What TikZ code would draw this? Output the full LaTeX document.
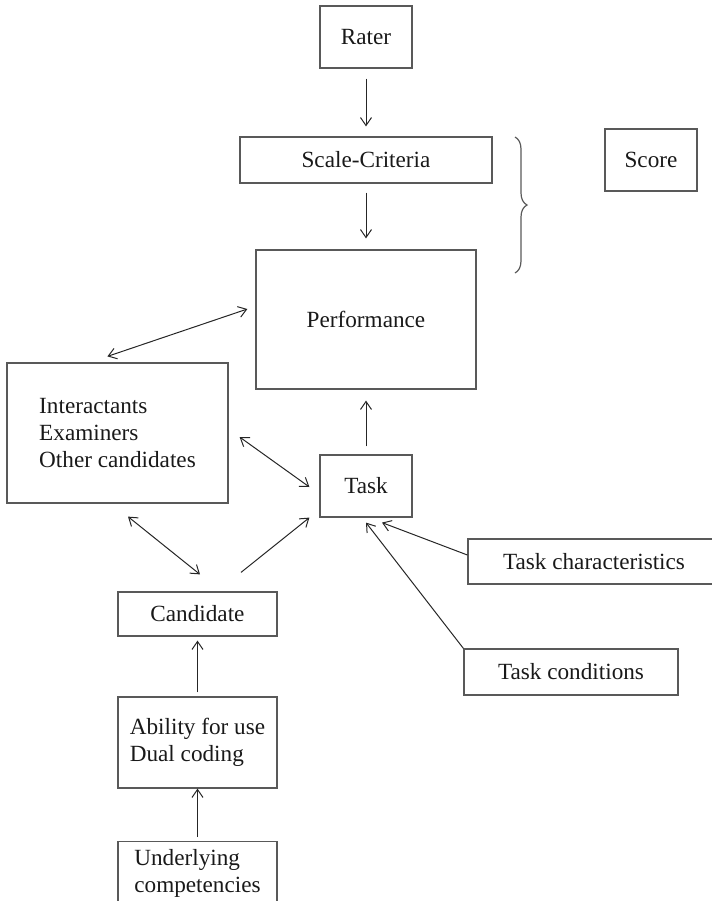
\documentclass[tikz,border=0pt]{standalone}
\usepackage{fontspec}
\setmainfont{Liberation Serif}
\usetikzlibrary{arrows.meta,calc,decorations.pathreplacing}
\begin{document}
\begin{tikzpicture}[x=0.5pt,y=-0.5pt,
  box/.style={draw=black!65, line width=0.6pt, rectangle, inner sep=0pt,
    font=\fontsize{11.6}{13.3}\selectfont, text=black!90},
  tip/.tip={Straight Barb[length=4pt,width=5.5pt]},
  arr/.style={draw=black!85, line width=0.5pt, -tip},
  darr/.style={draw=black!85, line width=0.5pt, tip-tip}]
\useasboundingbox (0,0) rectangle (712,901);

\node[box, minimum width=46pt, minimum height=31pt] (rater) at (366,37) {Rater};
\node[box, minimum width=126pt, minimum height=23pt] (scale) at (366,160) {Scale-Criteria};
\node[box, minimum width=110pt, minimum height=69.5pt] (perf) at (366,319.5) {Performance};
\node[box, minimum width=46pt, minimum height=31pt] (score) at (651,160) {Score};
\node[box, minimum width=110.5pt, minimum height=70pt, align=left] (inter) at (117.5,433) {Interactants\\Examiners\\Other candidates};
\node[box, minimum width=46pt, minimum height=31pt] (task) at (366,486) {Task};
\node[box, minimum width=126pt, minimum height=22.5pt] (tchar) at (594,561.5) {Task characteristics};
\node[box, minimum width=107pt, minimum height=23pt] (tcond) at (571,672) {Task conditions};
\node[box, minimum width=79.5pt, minimum height=22pt] (cand) at (197.5,614) {Candidate};
\node[box, minimum width=79.5pt, minimum height=45.5pt, align=left] (abil) at (197.5,742.5) {Ability for use\\Dual coding};
\node[box, minimum width=79.5pt, minimum height=32pt, align=left, anchor=north] (under) at (197.5,841) {Underlying\\competencies};

% brace
\coordinate (bt) at (515,137);
\coordinate (bb) at (515,273);
\draw[draw=black!65, line width=0.6pt, decorate, decoration={brace, amplitude=6pt}] (bt) -- (bb);

% connectors
\draw[arr] ($(rater.south)+(0,10)$) -- ($(scale.north)+(0,-10)$);
\draw[arr] ($(scale.south)+(0,9)$) -- ($(perf.north)+(0,-11)$);
\draw[darr] ($(inter.north west)+(101,-6)$) -- ($(perf.west)+(-8,-10.5)$);
\draw[darr] ($(inter.east)+(11,4)$) -- ($(task.west)+(-10,1)$);
\draw[darr] ($(inter.south)+(10.5,13)$) -- ($(cand.north)+(2.5,-17)$);
\draw[arr] ($(cand.north)+(43.5,-19)$) -- ($(task.south west)+(-10,0)$);
\draw[arr] ($(task.north)+(0,-8)$) -- ($(perf.south)+(0,11)$);
\draw[arr] ($(tchar.west)+(0,-6.5)$) -- ($(task.south)+(16,5)$);
\draw[arr] (tcond.north west) -- ($(task.south)+(0,5)$);
\draw[arr] ($(abil.north)+(0,-4)$) -- ($(cand.south)+(0,4)$);
\draw[arr] ($(under.north)+(0,-4)$) -- (abil.south);
\end{tikzpicture}
\end{document}
